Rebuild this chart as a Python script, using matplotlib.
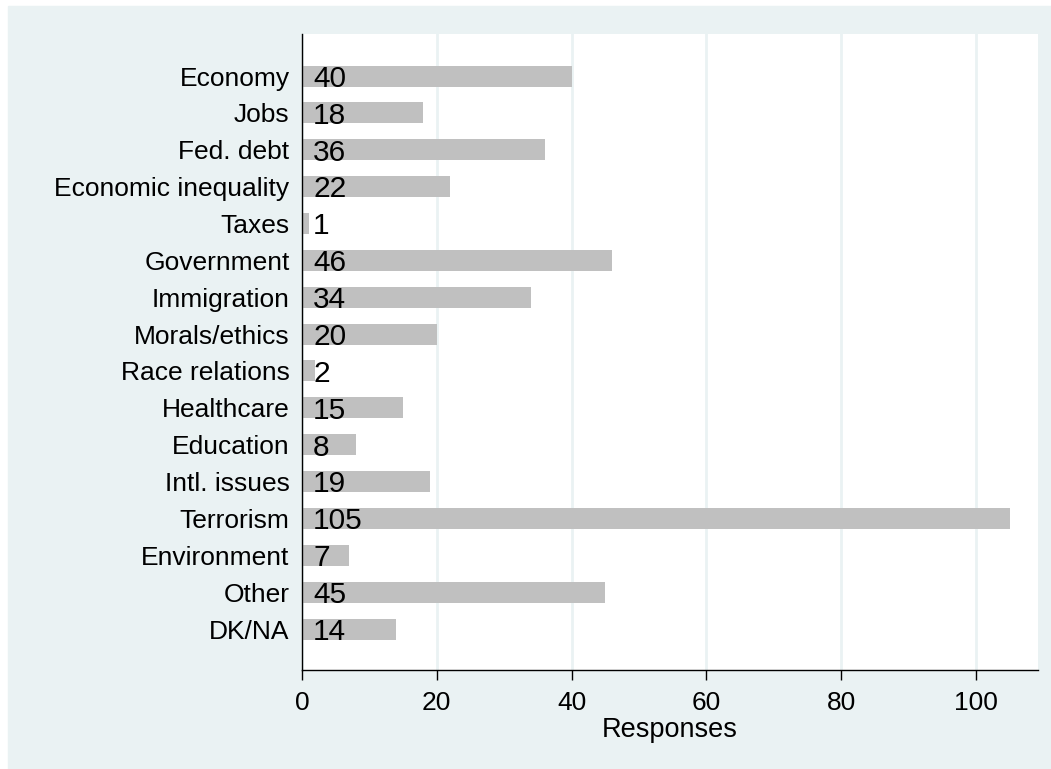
import matplotlib
matplotlib.use('Agg')
import matplotlib.pyplot as plt

plt.rcParams['font.family'] = ['Liberation Sans', 'DejaVu Sans']

categories = ['Economy', 'Jobs', 'Fed. debt', 'Economic inequality', 'Taxes',
              'Government', 'Immigration', 'Morals/ethics', 'Race relations',
              'Healthcare', 'Education', 'Intl. issues', 'Terrorism',
              'Environment', 'Other', 'DK/NA']
responses = [40, 18, 36, 22, 1, 46, 34, 20, 2, 15, 8, 19, 105, 7, 45, 14]
xticks = [0, 20, 40, 60, 80, 100]

bg = '#EAF2F3'

fig = plt.figure(figsize=(10.51, 7.69), dpi=100)
# outer light band like the Stata graph region
fig.patches.append(plt.Rectangle((8 / 1051, 0), 1, 1 - 6 / 769,
                                 transform=fig.transFigure, color=bg, zorder=-5))
ax = fig.add_axes([302 / 1051, 1 - 670 / 769, 736 / 1051, 636 / 769])
ax.set_zorder(2)
ax.set_facecolor('white')

pos = list(range(len(categories)))
ax.barh(pos, responses, height=0.57, color='#C0C0C0', zorder=2)
for p, v in zip(pos, responses):
    ax.annotate(str(v), (0, p), xytext=(8, -2), textcoords='offset points',
                va='center', ha='left', fontsize=21.5, color='black', zorder=3)

ax.set_xlim(0, 109.2)
ax.set_ylim(15 + 1.11, -1.14)
ax.set_xticks(xticks)
ax.set_yticks(pos)
ax.set_yticklabels(categories)
ax.tick_params(axis='y', length=0, pad=9, labelsize=19)
ax.tick_params(axis='x', length=7.5, width=1, pad=7.5, labelsize=19)
ax.grid(axis='x', color=bg, linewidth=2, zorder=1)
ax.set_axisbelow(True)
ax.set_xlabel('Responses', fontsize=19.5, labelpad=1.5)

for s in ['top', 'right']:
    ax.spines[s].set_visible(False)
for s in ['left', 'bottom']:
    ax.spines[s].set_linewidth(1)
    ax.spines[s].set_color('black')

fig.savefig('out.png', dpi=100)
